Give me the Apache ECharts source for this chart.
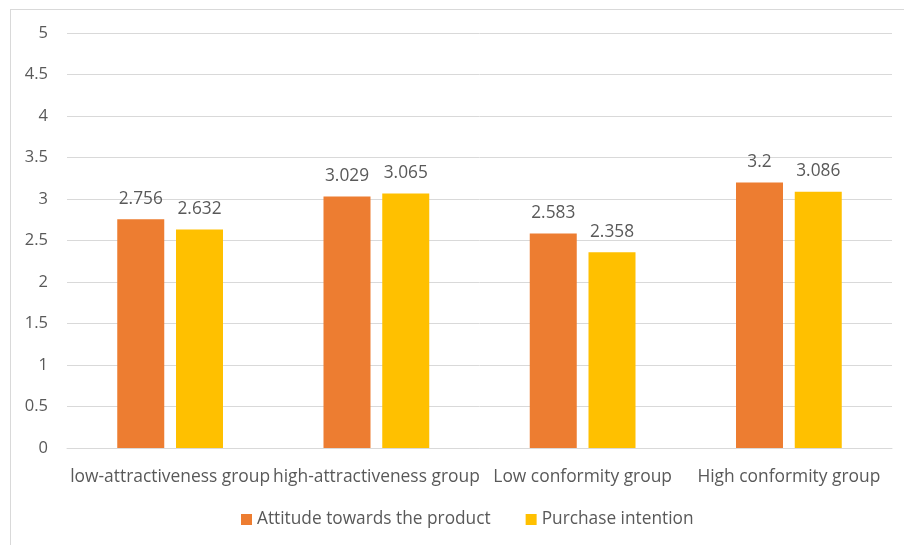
<!DOCTYPE html>
<html>
<head>
<meta charset="utf-8">
<script src="https://cdn.jsdelivr.net/npm/echarts@6/dist/echarts.min.js"></script>
<style>
  html, body { margin: 0; padding: 0; background: #fff; }
  #frame { position: absolute; left: 10px; top: 9px; width: 900px; height: 540px; border: 1px solid #d9d9d9; box-sizing: border-box; }
  #chart { position: absolute; left: 0; top: 0; width: 904px; height: 545px; }
</style>
</head>
<body>
<div id="frame"></div>
<div id="chart"></div>
<script>
const categories = ['low-attractiveness group', 'high-attractiveness group', 'Low conformity group', 'High conformity group'];
const attitude = [2.756, 3.029, 2.583, 3.2];
const purchase = [2.632, 3.065, 2.358, 3.086];
const seriesNames = ['Attitude towards the product', 'Purchase intention'];

const FONT = '"Open Sans", sans-serif';
const TEXT = '#595959';

const chart = echarts.init(document.getElementById('chart'), null, { renderer: 'canvas' });
chart.setOption({
  animation: false,
  textStyle: { fontFamily: FONT, color: TEXT },
  grid: { left: 67, right: 12, top: 33, bottom: 97, containLabel: false },
  legend: {
    bottom: 12,
    left: 236,
    itemWidth: 11,
    itemHeight: 11,
    itemGap: 35,
    icon: 'rect',
    textStyle: { fontFamily: FONT, fontSize: 17.3, color: TEXT },
    data: seriesNames
  },
  xAxis: {
    type: 'category',
    data: categories,
    axisLine: { lineStyle: { color: '#d9d9d9', width: 1 } },
    axisTick: { show: false },
    axisLabel: { interval: 0, fontFamily: FONT, fontSize: 17.4, color: TEXT, margin: 21 }
  },
  yAxis: {
    type: 'value',
    min: 0,
    max: 5,
    interval: 0.5,
    axisLine: { show: false },
    axisTick: { show: false },
    splitLine: { lineStyle: { color: '#d9d9d9', width: 1 } },
    axisLabel: { fontFamily: FONT, fontSize: 16.5, color: TEXT, margin: 19 }
  },
  series: [
    {
      name: seriesNames[0],
      type: 'bar',
      data: attitude,
      barWidth: 47,
      barGap: '25%',
      itemStyle: { color: '#ED7D31' },
      label: { show: true, position: 'top', distance: 12, fontFamily: FONT, fontSize: 17.3, color: TEXT }
    },
    {
      name: seriesNames[1],
      type: 'bar',
      data: purchase,
      barWidth: 47,
      itemStyle: { color: '#FFC000' },
      label: { show: true, position: 'top', distance: 12, fontFamily: FONT, fontSize: 17.3, color: TEXT }
    }
  ]
});
</script>
</body>
</html>
